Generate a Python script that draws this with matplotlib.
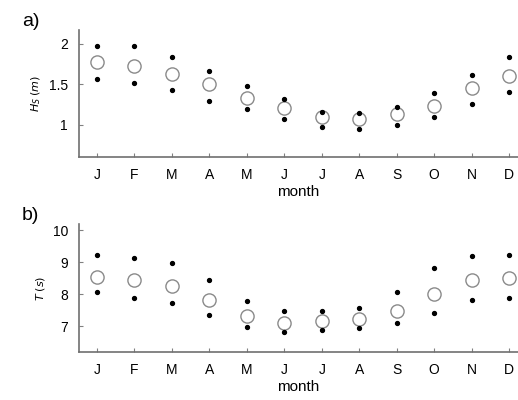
import numpy as np
import matplotlib.pyplot as plt

plt.rcParams['font.family'] = ['Liberation Sans', 'DejaVu Sans']

months = ['J', 'F', 'M', 'A', 'M', 'J', 'J', 'A', 'S', 'O', 'N', 'D']

# significant wave height (m): mean, upper, lower
hs_mean = [1.78, 1.72, 1.63, 1.50, 1.33, 1.20, 1.09, 1.07, 1.13, 1.23, 1.45, 1.60]
hs_upper = [1.97, 1.97, 1.84, 1.66, 1.48, 1.32, 1.16, 1.14, 1.22, 1.39, 1.61, 1.84]
hs_lower = [1.56, 1.52, 1.43, 1.29, 1.19, 1.07, 0.97, 0.95, 0.99, 1.09, 1.25, 1.40]

# wave period (s): mean, upper, lower
t_mean = [8.55, 8.46, 8.27, 7.83, 7.33, 7.12, 7.16, 7.22, 7.48, 8.00, 8.44, 8.50]
t_upper = [9.24, 9.14, 8.98, 8.44, 7.79, 7.47, 7.47, 7.58, 8.06, 8.82, 9.20, 9.22]
t_lower = [8.08, 7.89, 7.73, 7.37, 6.97, 6.84, 6.88, 6.95, 7.12, 7.41, 7.83, 7.89]


def draw_panel(ax, mean, upper, lower, ylim, yticks, yticklabels, ylabel):
    x = np.arange(len(months))
    ax.plot(x, mean, 'o', ms=9.5, mfc='none', mec='#8a8a8a', mew=1.0)
    ax.plot(x, upper, 'o', ms=2.8, color='black')
    ax.plot(x, lower, 'o', ms=2.8, color='black')
    ax.set_xlim(-0.48, 11.24)
    ax.set_ylim(*ylim)
    ax.set_xticks(x)
    ax.set_xticklabels(months, fontsize=10)
    ax.set_yticks(yticks)
    ax.set_yticklabels(yticklabels, fontsize=10)
    ax.tick_params(direction='in', length=3, color='#808080', pad=8)
    for side in ['top', 'right']:
        ax.spines[side].set_visible(False)
    for side in ['left', 'bottom']:
        ax.spines[side].set_color('#707070')
        ax.spines[side].set_linewidth(1.2)
    ax.set_xlabel('month', fontsize=11, labelpad=2)
    ax.set_ylabel(ylabel, fontsize=8, labelpad=4)


fig = plt.figure(figsize=(5.18, 4.0), dpi=100)

ax1 = fig.add_axes([0.1525, 0.6075, 0.8475, 0.3175])
draw_panel(ax1, hs_mean, hs_upper, hs_lower, (0.6, 2.17),
           [1, 1.5, 2], ['1', '1.5', '2'], r'$H_S\;(m)$')
fig.text(0.042, 0.935, 'a)', fontsize=14)

ax2 = fig.add_axes([0.1525, 0.12, 0.8475, 0.32])
draw_panel(ax2, t_mean, t_upper, t_lower, (6.2, 10.2),
           [7, 8, 9, 10], ['7', '8', '9', '10'], r'$T\;(s)$')
fig.text(0.042, 0.45, 'b)', fontsize=14)

fig.savefig('out.png', dpi=100)
